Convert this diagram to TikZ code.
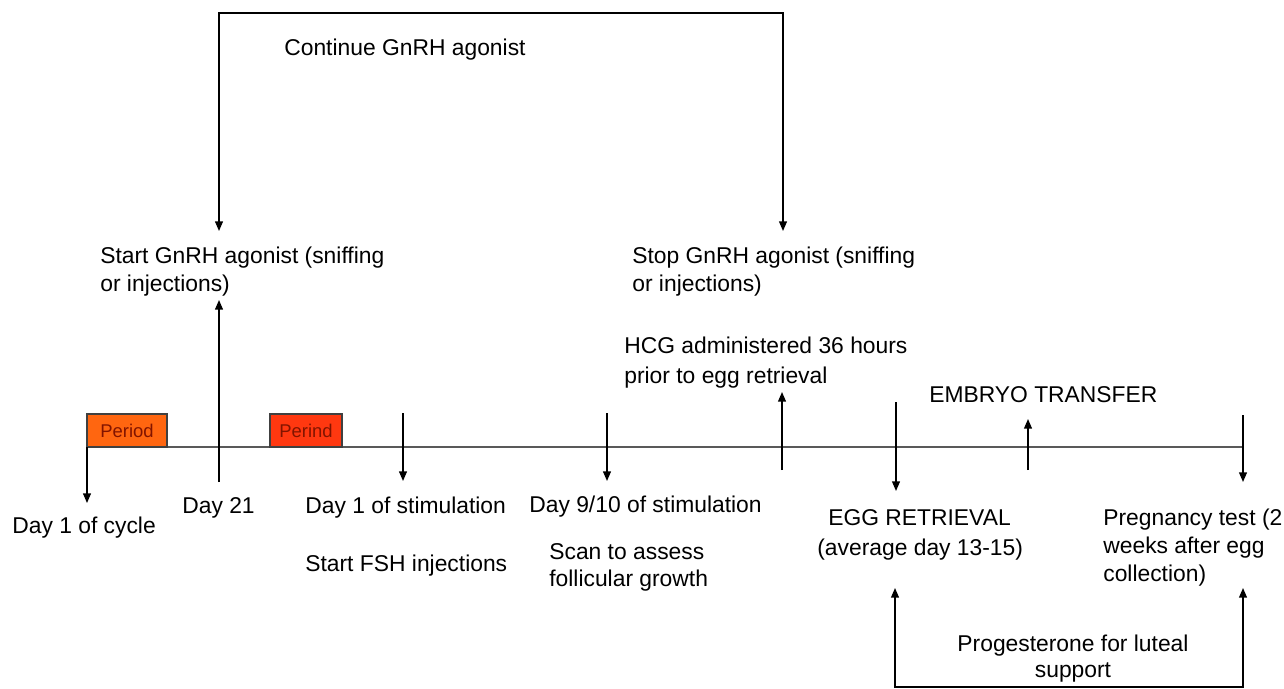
\documentclass[tikz,border=0pt]{standalone}
\usepackage{fontspec}
\setmainfont{Liberation Sans}
\usetikzlibrary{arrows.meta}
\definecolor{perA}{RGB}{255,102,16}
\definecolor{perB}{RGB}{255,56,16}
\definecolor{pertxt}{RGB}{130,20,0}
\begin{document}
\begin{tikzpicture}[x=0.02cm,y=-0.02cm,
  lbl/.style={anchor=base west,inner sep=0pt,font=\fontsize{13}{15.6}\selectfont},
  clbl/.style={anchor=base,inner sep=0pt,font=\fontsize{13}{15.6}\selectfont},
  tip/.tip={Triangle[length=5.5pt,width=4.5pt]},
  arr/.style={draw=black,line width=0.8pt,-tip},
  darr/.style={draw=black,line width=0.8pt,tip-tip},
  tline/.style={draw=black!65,line width=1.2pt},
  perbox/.style={draw=black!75,line width=0.6pt,inner sep=0pt,minimum height=33*0.02cm,
    font=\fontsize{10.5}{12}\selectfont,text=pertxt}]
\fill[white] (0,0) rectangle (1284,689);
\useasboundingbox (0,0) rectangle (1284,689);

% timeline
\coordinate (t0) at (87,447);
\coordinate (t1) at (1243,447);
\draw[tline] (t0) -- (t1);

% period boxes
\node[perbox,fill=perA,minimum width=80*0.02cm] (p1) at (127,430.5) {Period};
\node[perbox,fill=perB,minimum width=72*0.02cm] (p2) at (306,430.5) {Perind};

% coordinates for arrows
\coordinate (c1) at (87,503);
\coordinate (d21a) at (219,482);
\coordinate (d21b) at (219,300);
\coordinate (s1a) at (403,413);
\coordinate (s1b) at (403,481);
\coordinate (s9a) at (607,413);
\coordinate (s9b) at (607,481);
\coordinate (ha) at (782,470);
\coordinate (hb) at (782,392);
\coordinate (ea) at (896,402);
\coordinate (eb) at (896,491);
\coordinate (ma) at (1028,470);
\coordinate (mb) at (1028,419);
\coordinate (pa) at (1243,415);
\coordinate (pb) at (1243,482);
% top bracket
\coordinate (ga) at (219,231);
\coordinate (gb) at (219,13);
\coordinate (gc) at (783,13);
\coordinate (gd) at (783,231);
% bottom bracket
\coordinate (ba) at (895,588);
\coordinate (bb) at (895,687);
\coordinate (bc) at (1243,687);
\coordinate (bd) at (1243,588);

\draw[arr] (t0) -- (c1);
\draw[arr] (d21a) -- (d21b);
\draw[arr] (s1a) -- (s1b);
\draw[arr] (s9a) -- (s9b);
\draw[arr] (ha) -- (hb);
\draw[arr] (ea) -- (eb);
\draw[arr] (ma) -- (mb);
\draw[arr] (pa) -- (pb);
\draw[darr] (ga) -- (gb) -- (gc) -- (gd);
\draw[darr] (ba) -- (bb) -- (bc) -- (bd);

% labels
\node[lbl] (cont) at (284,56) {Continue GnRH agonist};
\node[lbl] (sg1) at (100,263) {Start GnRH agonist (sniffing};
\node[lbl] (sg2) at (100,291) {or injections)};
\node[lbl] (st1) at (632,263) {Stop GnRH agonist (sniffing};
\node[lbl] (st2) at (632,291) {or injections)};
\node[lbl] (hcg1) at (624,353) {HCG administered 36 hours};
\node[lbl] (hcg2) at (624,383) {prior to egg retrieval};
\node[lbl] (emb) at (929,402) {EMBRYO TRANSFER};
\node[lbl] (dc) at (12,533) {Day 1 of cycle};
\node[lbl] (d21) at (182,513) {Day 21};
\node[lbl] (ds1) at (305,513) {Day 1 of stimulation};
\node[lbl] (fsh) at (305,571) {Start FSH injections};
\node[lbl] (ds9) at (529,512) {Day 9/10 of stimulation};
\node[lbl] (sc1) at (549,559) {Scan to assess};
\node[lbl] (sc2) at (549,586) {follicular growth};
\node[lbl] (er1) at (828,525) {EGG RETRIEVAL};
\node[lbl] (er2) at (817,555) {(average day 13-15)};
\node[lbl] (pt1) at (1103,525) {Pregnancy test (2};
\node[lbl] (pt2) at (1103,553) {weeks after egg};
\node[lbl] (pt3) at (1103,581) {collection)};
\node[clbl] (pr1) at (1073,651) {Progesterone for luteal};
\node[clbl] (pr2) at (1073,677) {support};
\end{tikzpicture}
\end{document}
